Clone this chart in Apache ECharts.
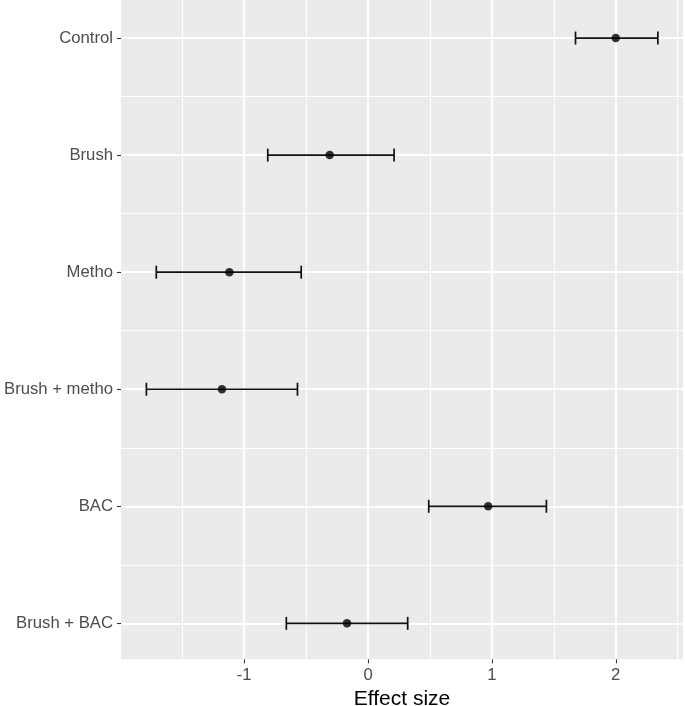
<!DOCTYPE html>
<html>
<head>
<meta charset="utf-8">
<script src="https://cdn.jsdelivr.net/npm/echarts@6/dist/echarts.min.js"></script>
<style>
html,body{margin:0;padding:0;background:#fff;}
#chart{width:685px;height:706px;}
</style>
</head>
<body>
<div id="chart"></div>
<script>
const categories = ['Control', 'Brush', 'Metho', 'Brush + metho', 'BAC', 'Brush + BAC'];
const estimates = [2.00, -0.31, -1.12, -1.18, 0.97, -0.17];
const lower = [1.675, -0.81, -1.71, -1.79, 0.49, -0.66];
const upper = [2.34, 0.21, -0.54, -0.57, 1.44, 0.32];
const xTicks = [-1, 0, 1, 2];
const xMinor = [-1.5, -0.5, 0.5, 1.5, 2.5];
const yTicks = [1, 2, 3, 4, 5, 6];
const yMinor = [1.5, 2.5, 3.5, 4.5, 5.5];

const FONT = '"Liberation Sans", Arial, Helvetica, sans-serif';
const xMin = -1.995, xMax = 2.543;
const yMin = 0.675, yMax = 6.307;

const rows = categories.map((c, i) => i + 1);
const errData = categories.map((c, i) => [lower[i], upper[i], rows[i]]);
const ptData = categories.map((c, i) => [estimates[i], rows[i]]);

const chart = echarts.init(document.getElementById('chart'), null, {renderer: 'canvas'});

const option = {
  animation: false,
  backgroundColor: '#ffffff',
  grid: {
    left: 121, right: 2, top: 0, bottom: 46.7,
    show: true, backgroundColor: '#EBEBEB', borderWidth: 0,
    containLabel: false,
    outerBoundsMode: 'none'
  },
  xAxis: [
    {
      type: 'value', min: xMin, max: xMax, position: 'bottom',
      axisLine: {show: false, onZero: false},
      axisTick: {show: true, length: 4, lineStyle: {color: '#333333', width: 1.1}, customValues: xTicks},
      axisLabel: {show: true, customValues: xTicks, margin: 8, color: '#4D4D4D', fontSize: 16.7, fontFamily: FONT,
        formatter: v => String(v)},
      splitLine: {show: true, lineStyle: {color: '#FFFFFF', width: 2}},
      name: 'Effect size', nameLocation: 'middle', nameGap: 23,
      nameTextStyle: {color: '#000000', fontSize: 21, fontFamily: FONT},
      z: 2
    },
    {
      type: 'value', min: xMin, max: xMax, position: 'bottom',
      axisLine: {show: false, onZero: false},
      axisTick: {show: false, customValues: xMinor},
      axisLabel: {show: false, customValues: xMinor},
      splitLine: {show: true, lineStyle: {color: '#FFFFFF', width: 1.1}},
      z: 1
    }
  ],
  yAxis: [
    {
      type: 'value', min: yMin, max: yMax, inverse: true, position: 'left',
      axisLine: {show: false, onZero: false},
      axisTick: {show: true, length: 4, lineStyle: {color: '#333333', width: 1.1}, customValues: yTicks},
      axisLabel: {show: true, customValues: yTicks, margin: 8, color: '#4D4D4D', fontSize: 16.7, fontFamily: FONT,
        formatter: v => categories[Math.round(v) - 1] || ''},
      splitLine: {show: true, lineStyle: {color: '#FFFFFF', width: 2}},
      z: 2
    },
    {
      type: 'value', min: yMin, max: yMax, inverse: true, position: 'left',
      axisLine: {show: false, onZero: false},
      axisTick: {show: false, customValues: yMinor},
      axisLabel: {show: false, customValues: yMinor},
      splitLine: {show: true, lineStyle: {color: '#FFFFFF', width: 1.1}},
      z: 1
    }
  ],
  series: [
    {
      type: 'custom',
      xAxisIndex: 0, yAxisIndex: 0,
      data: errData,
      renderItem: function (params, api) {
        const lo = api.coord([api.value(0), api.value(2)]);
        const hi = api.coord([api.value(1), api.value(2)]);
        const h = 6.5;
        const style = {stroke: '#111111', lineWidth: 1.7};
        return {
          type: 'group',
          children: [
            {type: 'line', shape: {x1: lo[0], y1: lo[1], x2: hi[0], y2: hi[1]}, style: style},
            {type: 'line', shape: {x1: lo[0], y1: lo[1] - h, x2: lo[0], y2: lo[1] + h}, style: style},
            {type: 'line', shape: {x1: hi[0], y1: hi[1] - h, x2: hi[0], y2: hi[1] + h}, style: style}
          ]
        };
      },
      z: 3
    },
    {
      type: 'scatter',
      xAxisIndex: 0, yAxisIndex: 0,
      data: ptData,
      symbol: 'circle', symbolSize: 8.5,
      itemStyle: {color: '#000000'},
      z: 4
    }
  ]
};
chart.setOption(option);
</script>
</body>
</html>
